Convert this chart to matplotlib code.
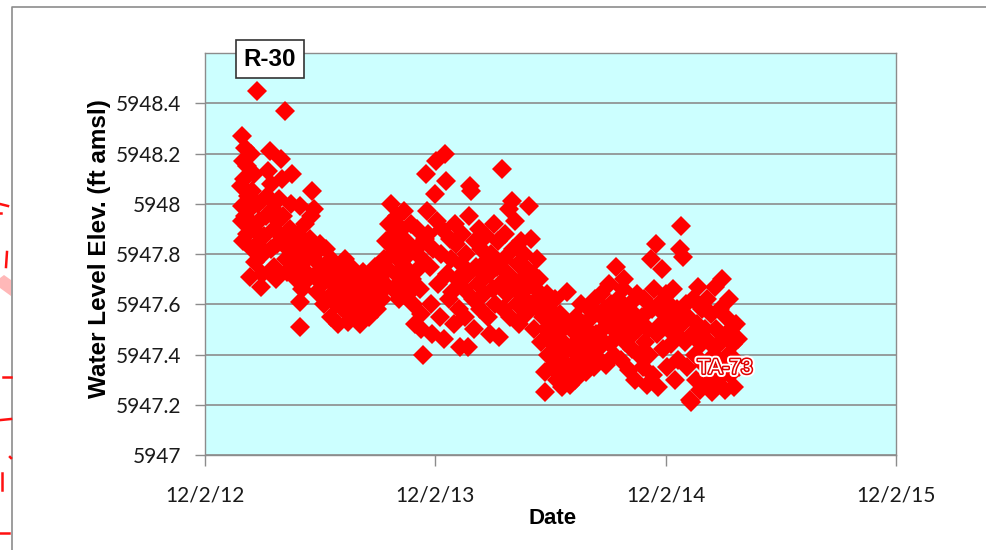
import matplotlib
matplotlib.use("Agg")
import matplotlib.pyplot as plt
import matplotlib.patheffects as pe
from matplotlib.lines import Line2D
from matplotlib.patches import Polygon
import numpy as np

# days since 12/2/12 and water level elevation (ft amsl)
days_a = [59, 63, 60, 66, 57, 62, 68, 59, 64, 58, 61, 66, 70, 73, 77, 75, 72, 78, 74, 71,
          80, 82, 84, 86, 83, 88, 90, 92, 94, 96, 98, 100, 103, 105, 107, 109, 104, 110, 112, 114,
          116, 118, 120, 122, 124, 126, 127, 128, 130, 132, 134, 136, 138, 140, 142, 144, 146, 148, 150, 151,
          150, 153, 155, 157, 159, 162, 164, 166, 168, 170, 172, 174, 176, 178, 180, 182, 185, 188, 190, 192,
          195, 197, 199]
elev_a = [5948.27, 5948.22, 5948.17, 5948.15, 5948.07, 5948.10, 5948.03, 5947.99, 5947.95, 5947.93,
          5947.85, 5947.88, 5947.92, 5948.20, 5948.12, 5948.05, 5947.98, 5947.90, 5947.82, 5947.71,
          5947.77, 5947.84, 5948.00, 5947.93, 5948.45, 5947.67, 5947.72, 5947.80, 5947.87, 5947.95,
          5948.03, 5948.13, 5948.21, 5948.08, 5947.98, 5947.90, 5947.82, 5947.75, 5947.70, 5947.84,
          5947.93, 5948.02, 5948.18, 5948.10, 5947.95, 5947.87, 5948.37, 5947.78, 5947.73, 5947.82,
          5947.90, 5948.00, 5948.12, 5947.85, 5947.77, 5947.70, 5947.80, 5947.88, 5947.99, 5947.61,
          5947.51, 5947.66, 5947.74, 5947.83, 5947.92, 5947.78, 5947.70, 5947.86, 5947.95, 5948.05,
          5947.98, 5947.80, 5947.72, 5947.65, 5947.76, 5947.84, 5947.68, 5947.60, 5947.74, 5947.82,
          5947.70, 5947.63, 5947.78]

days_b = [200, 203, 205, 208, 210, 212, 215, 218, 220, 222, 225, 227, 230, 232, 235, 237, 240, 242, 245, 247,
          250, 252, 255, 257, 260, 262, 265, 268, 270, 272, 275, 278, 280, 283, 285, 287, 290, 292, 294, 296,
          298, 300, 302, 304, 306, 308, 310, 312, 314, 316, 318, 320, 322, 324, 326, 328, 330, 332, 334, 336,
          338, 340, 342, 343, 346, 344, 348]
elev_b = [5947.55, 5947.68, 5947.75, 5947.60, 5947.52, 5947.66, 5947.72, 5947.58, 5947.64, 5947.78,
          5947.70, 5947.53, 5947.60, 5947.67, 5947.74, 5947.56, 5947.62, 5947.70, 5947.52, 5947.66,
          5947.73, 5947.58, 5947.63, 5947.69, 5947.55, 5947.72, 5947.60, 5947.66, 5947.75, 5947.58,
          5947.64, 5947.70, 5947.62, 5947.78, 5947.68, 5947.85, 5947.74, 5947.92, 5948.00, 5947.80,
          5947.66, 5947.88, 5947.72, 5947.95, 5947.83, 5947.62, 5947.77, 5947.90, 5947.68, 5947.97,
          5947.85, 5947.74, 5947.64, 5947.80, 5947.92, 5947.70, 5947.60, 5947.52, 5947.82, 5947.90,
          5947.74, 5947.66, 5947.56, 5947.50, 5947.40, 5947.78, 5947.86]

days_c = [350, 352, 354, 356, 358, 360, 362, 364, 366, 368, 370, 372, 374, 376, 378, 380, 382, 384, 386, 388,
          390, 392, 394, 396, 398, 400, 402, 404, 406, 408, 410, 412, 414, 416, 417, 418, 420, 422, 424, 426,
          428, 430, 432, 434, 436, 438, 440, 442, 444, 446, 448, 450, 452, 454, 456, 458, 460, 462, 464, 466,
          468, 470, 472, 474, 476, 478, 480, 482, 484, 486, 488, 490, 492, 494, 496, 498, 500, 502, 504, 506,
          508, 510, 512, 514, 516, 518, 520, 522, 524, 526, 528, 530, 532, 534, 536, 538, 539, 540, 542, 544]
elev_c = [5948.12, 5947.97, 5947.88, 5947.75, 5947.60, 5947.48, 5947.82, 5948.04, 5948.17, 5947.93,
          5947.68, 5947.55, 5947.80, 5947.90, 5947.46, 5948.20, 5948.09, 5947.72, 5947.62, 5947.86,
          5947.78, 5947.65, 5947.52, 5947.92, 5947.84, 5947.70, 5947.58, 5947.43, 5947.76, 5947.88,
          5947.66, 5947.55, 5947.80, 5947.72, 5947.43, 5947.95, 5948.07, 5948.05, 5947.62, 5947.50,
          5947.85, 5947.75, 5947.68, 5947.90, 5947.58, 5947.82, 5947.70, 5947.64, 5947.77, 5947.87,
          5947.55, 5947.72, 5947.48, 5947.80, 5947.66, 5947.92, 5947.60, 5947.75, 5947.85, 5947.47,
          5947.68, 5948.14, 5947.58, 5947.78, 5947.88, 5947.64, 5947.72, 5947.98, 5947.55, 5948.01,
          5947.82, 5947.67, 5947.93, 5947.60, 5947.76, 5947.52, 5947.85, 5947.70, 5947.63, 5947.80,
          5947.56, 5947.74, 5947.67, 5947.99, 5947.86, 5947.60, 5947.72, 5947.50, 5947.66, 5947.78,
          5947.58, 5947.70, 5947.45, 5947.62, 5947.55, 5947.33, 5947.25, 5947.50, 5947.64, 5947.40]

days_d = [546, 548, 550, 552, 554, 556, 558, 560, 562, 564, 566, 568, 570, 572, 574, 576, 578, 580, 582, 584,
          586, 588, 590, 592, 594, 596, 598, 600, 602, 604, 606, 608, 610, 612, 614, 616, 618, 620, 622, 624,
          626, 628, 630, 632, 634, 636, 638, 640, 642, 644, 646, 648, 650, 652, 654, 656, 658, 660, 662, 664,
          666, 668, 670, 672, 674, 676, 678, 680, 682, 684, 686, 688]
elev_d = [5947.58, 5947.45, 5947.35, 5947.52, 5947.62, 5947.42, 5947.30, 5947.48, 5947.56, 5947.38,
          5947.27, 5947.45, 5947.52, 5947.34, 5947.65, 5947.42, 5947.28, 5947.50, 5947.36, 5947.44,
          5947.30, 5947.55, 5947.40, 5947.32, 5947.47, 5947.60, 5947.37, 5947.52, 5947.43, 5947.33,
          5947.50, 5947.58, 5947.40, 5947.46, 5947.55, 5947.35, 5947.62, 5947.48, 5947.42, 5947.56,
          5947.38, 5947.64, 5947.50, 5947.45, 5947.58, 5947.36, 5947.52, 5947.68, 5947.44, 5947.60,
          5947.50, 5947.40, 5947.56, 5947.75, 5947.62, 5947.48, 5947.55, 5947.38, 5947.66, 5947.70,
          5947.45, 5947.58, 5947.52, 5947.34, 5947.60, 5947.42, 5947.48, 5947.56, 5947.30, 5947.64,
          5947.50, 5947.40]

days_e = [692, 694, 696, 698, 700, 702, 704, 706, 708, 710, 712, 714, 716, 718, 720, 722, 724, 726, 728, 730,
          732, 734, 736, 738, 740, 742, 744, 746, 748, 750, 752, 754, 756, 758, 760, 762, 764, 766, 768, 770,
          772, 774, 776, 778, 780, 782, 784, 786, 788, 790, 792, 794, 796, 798, 800, 802, 804, 806, 808, 810,
          812, 814, 816, 818, 820, 822, 824, 826, 828, 830, 832, 834, 836, 838, 840, 842, 844, 846]
elev_e = [5947.55, 5947.35, 5947.62, 5947.45, 5947.28, 5947.50, 5947.40, 5947.78, 5947.58, 5947.32,
          5947.66, 5947.84, 5947.48, 5947.27, 5947.60, 5947.52, 5947.74, 5947.42, 5947.56, 5947.64,
          5947.35, 5947.50, 5947.60, 5947.44, 5947.55, 5947.66, 5947.30, 5947.48, 5947.58, 5947.38,
          5947.82, 5947.91, 5947.52, 5947.79, 5947.45, 5947.60, 5947.35, 5947.55, 5947.22, 5947.21,
          5947.48, 5947.62, 5947.40, 5947.30, 5947.52, 5947.67, 5947.26, 5947.44, 5947.58, 5947.36,
          5947.50, 5947.28, 5947.62, 5947.45, 5947.33, 5947.56, 5947.25, 5947.40, 5947.67, 5947.50,
          5947.30, 5947.44, 5947.58, 5947.36, 5947.70, 5947.47, 5947.26, 5947.55, 5947.40, 5947.62,
          5947.32, 5947.50, 5947.44, 5947.27, 5947.38, 5947.52, 5947.46, 5947.35]

start = np.datetime64("2012-12-02")
tick_dates = ["2012-12-02", "2013-12-02", "2014-12-02", "2015-12-02"]
tick_labels = ["12/2/12", "12/2/13", "12/2/14", "12/2/15"]
yticks = [5947, 5947.2, 5947.4, 5947.6, 5947.8, 5948, 5948.2, 5948.4]

days = days_a + days_b + days_c + days_d + days_e
elev = elev_a + elev_b + elev_c + elev_d + elev_e
dates = start + np.array(days, dtype="timedelta64[D]")

W, H = 986, 550
fig = plt.figure(figsize=(W / 100, H / 100), dpi=100)
ax = fig.add_axes([205 / W, 1 - 455 / H, (896 - 205) / W, (455 - 53) / H])
ax.set_facecolor("#ccffff")

ax.plot(dates, elev, linestyle="none", marker="D", markersize=10.2,
        color="#ff0000", markeredgewidth=0, zorder=3)

ax.set_xlim(np.datetime64(tick_dates[0]), np.datetime64(tick_dates[-1]))
ax.set_ylim(5947, 5948.6)
ax.set_xticks([np.datetime64(d) for d in tick_dates])
ax.set_xticklabels(tick_labels)
ax.set_yticks(yticks)
ax.set_yticklabels(["{:g}".format(v) for v in yticks])

ax.yaxis.grid(True, color="#8c8c8c", linewidth=1.2)
ax.set_axisbelow(True)
for s in ax.spines.values():
    s.set_color("#8c8c8c")
    s.set_linewidth(1.0)
ax.tick_params(axis="both", direction="out", color="#8c8c8c", width=1.0,
               labelsize=15, labelcolor="#1a1a1a")
ax.tick_params(axis="x", length=8, pad=14)
ax.tick_params(axis="y", length=7, pad=10)
for lab in ax.get_xticklabels() + ax.get_yticklabels():
    lab.set_family("Lato")

fig.text(100 / W, 1 - 249 / H, "Water Level Elev. (ft amsl)", rotation=90,
         ha="center", va="center", fontsize=17.5, fontweight="bold",
         family="Liberation Sans")
fig.text(553 / W, 1 - 519 / H, "Date", ha="center", va="center",
         fontsize=16, fontweight="bold", family="Liberation Sans")

fig.text(270 / W, 1 - 59 / H, "R-30", ha="center", va="center", fontsize=17.5,
         fontweight="bold", family="Liberation Sans", zorder=10,
         bbox=dict(boxstyle="square,pad=0.3", facecolor="white",
                   edgecolor="#333333", linewidth=1.2))

fig.text(725 / W, 1 - 368 / H, "TA-73", ha="center", va="center", fontsize=15,
         color="white", family="Liberation Sans", zorder=10,
         path_effects=[pe.Stroke(linewidth=5, foreground="white"),
                       pe.Stroke(linewidth=2.2, foreground="#e00000"),
                       pe.Normal()])

# border of the slide chart area
fig.add_artist(Line2D([12 / W, 12 / W, 1], [0, 1 - 7 / H, 1 - 7 / H],
                      transform=fig.transFigure, color="#8c8c8c", linewidth=1.2))
# red fragments from a neighbouring figure at the left edge
for (x0, y0), (x1, y1) in [((0, 204), (8, 206)), ((0, 213), (1, 213)),
                           ((7, 252), (6, 267)), ((3, 377), (11, 377)),
                           ((1, 420), (11, 419)), ((10, 457), (11, 458)),
                           ((2, 473), (2, 490)), ((0, 533), (9, 533))]:
    fig.add_artist(Line2D([x0 / W, x1 / W], [1 - y0 / H, 1 - y1 / H],
                          transform=fig.transFigure, color="#ff1010", linewidth=1.8))
fig.add_artist(Polygon([(0, 1 - 278 / H), (4 / W, 1 - 275 / H), (11 / W, 1 - 280 / H),
                        (11 / W, 1 - 296 / H), (0, 1 - 288 / H)],
                       closed=True, transform=fig.transFigure,
                       facecolor="#ffb8b8", edgecolor="none"))

fig.savefig("out.png", dpi=100)
